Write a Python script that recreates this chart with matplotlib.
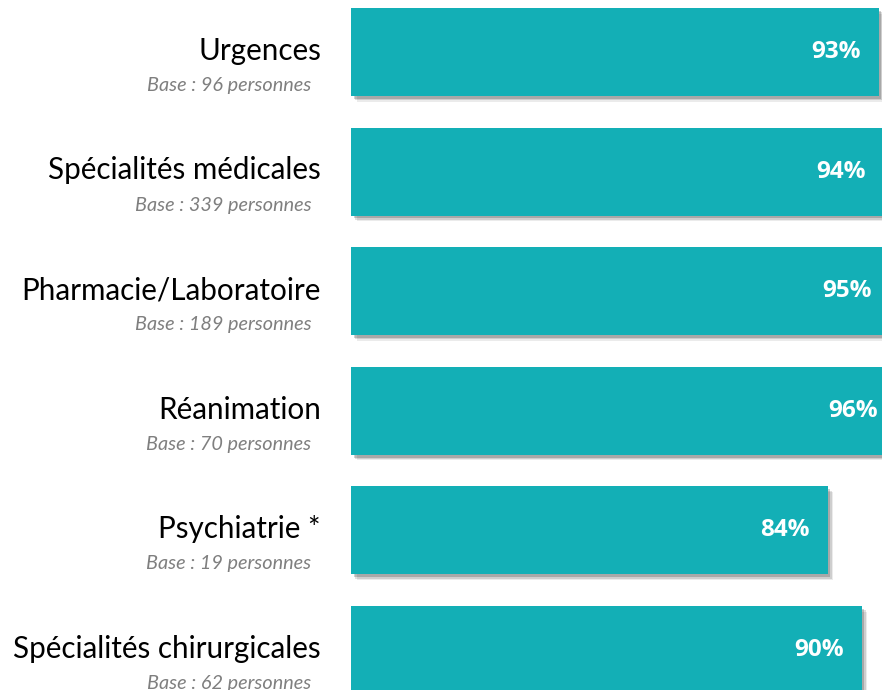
## horizontal bars with shadow, labels on the left
import matplotlib.pyplot as plt
import matplotlib.patheffects as pe

## data
categories = ["Urgences", "Spécialités médicales", "Pharmacie/Laboratoire",
              "Réanimation", "Psychiatrie *", "Spécialités chirurgicales"]
bases = [96, 339, 189, 70, 19, 62]
values = [93, 94, 95, 96, 84, 90]

bar_color = "#13AFB6"

fig = plt.figure(figsize=(8.82, 6.9), dpi=100)
ax = fig.add_axes([351 / 882, 0, 1 - 351 / 882, 1])

pos = list(range(len(categories)))

## soft shadow: a few offset layers
shadow = [
    pe.SimplePatchShadow(offset=(4, -4), shadow_rgbFace="#000000", alpha=0.08),
    pe.SimplePatchShadow(offset=(3, -3), shadow_rgbFace="#000000", alpha=0.12),
    pe.SimplePatchShadow(offset=(2, -2), shadow_rgbFace="#000000", alpha=0.18),
    pe.Normal(),
]
bars = ax.barh(pos, values, height=0.736, color=bar_color, linewidth=0)
for b in bars:
    b.set_path_effects(shadow)

ax.set_xlim(0, 93.6)
ax.set_ylim(5.334, -0.435)
ax.axis("off")

## value labels inside the bars
for p, v in zip(pos, values):
    ax.text(v - 3.2, p, f"{v}%", ha="right", va="center", color="white",
            fontsize=17.5, fontweight="bold", family="Open Sans")

## category names and bases at the left
for p, c, n in zip(pos, categories, bases):
    ax.text(-5.3, p - 0.01, c, ha="right", va="center", fontsize=21.3,
            family="Lato", color="black", clip_on=False)
    ax.text(-7.0, p + 0.28, f"Base : {n} personnes", ha="right", va="center",
            fontsize=14.3, family="Lato", style="italic", color="#7f7f7f",
            clip_on=False)

plt.savefig("out.png", dpi=100)
